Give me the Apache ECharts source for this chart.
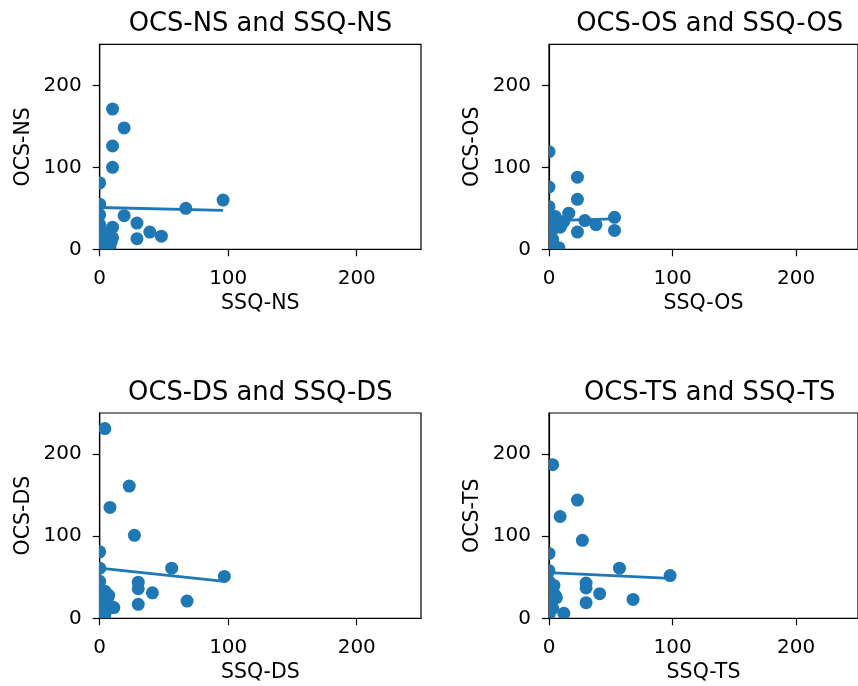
<!DOCTYPE html>
<html>
<head>
<meta charset="utf-8">
<script src="https://cdn.jsdelivr.net/npm/echarts@6/dist/echarts.min.js"></script>
<style>
html, body { margin: 0; padding: 0; background: #fff; }
#chart { width: 858px; height: 686px; }
</style>
</head>
<body>
<div id="chart"></div>
<script>
'use strict';
// panel names
const scales = ['NS', 'OS', 'DS', 'TS'];
const tickValues = [0, 100, 200];

// SSQ (x) and OCS (y) values per panel
const ssqNS = [10, 19, 10, 10, 0, 0, 0, 67, 96, 19, 29, 10, 39, 48, 29, 3, 5, 9, 2, 8, 4, 0, 10, 1];
const ocsNS = [171, 148, 126, 100, 81, 55, 42, 50, 60, 41, 32, 27, 21, 16, 13, 20, 12, 9, 5, 2, 0, 30, 14, 10];
const ssqOS = [0, 23, 0, 23, 0, 16, 29, 38, 53, 53, 23, 9, 8, 0, 0, 3, 0, 12, 5, 2, 10, 6];
const ocsOS = [119, 88, 76, 61, 52, 44, 35, 30, 39, 23, 21, 27, 2, 36, 28, 12, 5, 34, 40, 22, 30, 34];
const ssqDS = [4, 23, 8, 27, 0, 0, 56, 97, 30, 30, 41, 68, 30, 11, 0, 4, 6, 3, 9, 4, 0, 2, 7, 0];
const ocsDS = [231, 161, 135, 101, 81, 61, 61, 51, 44, 36, 31, 21, 17, 13, 45, 33, 23, 11, 13, 4, 28, 18, 28, 8];
const ssqTS = [3, 23, 9, 27, 0, 0, 57, 98, 30, 30, 41, 68, 30, 12, 0, 3, 5, 2, 3, 0, 6, 4];
const ocsTS = [187, 144, 124, 95, 79, 58, 61, 52, 43, 37, 30, 23, 19, 6, 45, 35, 28, 20, 12, 5, 25, 40];

// fitted line ends (x from min to max of SSQ)
const fitNS = [[0, 51], [96, 47.5]];
const fitOS = [[0, 35], [53, 37]];
const fitDS = [[0, 61], [97, 45]];
const fitTS = [[0, 55.5], [98, 48.5]];

const xs = [ssqNS, ssqOS, ssqDS, ssqTS];
const ys = [ocsNS, ocsOS, ocsDS, ocsTS];
const fits = [fitNS, fitOS, fitDS, fitTS];

const font = 'DejaVu Sans';
const blue = '#1f77b4';
const boxes = [
    {left: 99.7, top: 44.3, width: 321.3, height: 205},
    {left: 549, top: 44.3, width: 321.3, height: 205},
    {left: 99.7, top: 413, width: 321.3, height: 205.3},
    {left: 549, top: 413, width: 321.3, height: 205.3}
];

let dom = document.getElementById('chart');
let myChart = echarts.init(dom, null, {renderer: 'canvas'});

let titles = [], grids = [], xAxes = [], yAxes = [], series = [];

// scatter dots drawn as a custom series so they get cut at the plot border
function renderDot(params, api) {
    let p = api.coord([api.value(0), api.value(1)]);
    return {
        type: 'circle',
        shape: {cx: p[0], cy: p[1], r: 6.5},
        style: {fill: blue}
    };
}

scales.forEach(function (s, i) {
    let b = boxes[i];
    titles.push({
        text: 'OCS-' + s + ' and SSQ-' + s,
        left: b.left + b.width / 2,
        top: b.top - 33,
        textAlign: 'center',
        padding: 0,
        textStyle: {fontFamily: font, fontSize: 25.8, fontWeight: 'normal', color: '#000'}
    });
    grids.push({
        left: b.left, top: b.top, width: b.width, height: b.height,
        show: true, borderColor: '#000', borderWidth: 1.2, backgroundColor: '#fff'
    });
    let axisCommon = {
        gridIndex: i,
        type: 'value',
        min: 0,
        max: 250,
        interval: 100,
        nameLocation: 'middle',
        nameTextStyle: {fontFamily: font, fontSize: 20.5, color: '#000'},
        axisLine: {show: true, lineStyle: {color: '#000', width: 1.2}},
        axisTick: {show: true, inside: false, length: 7, customValues: tickValues,
            lineStyle: {color: '#000', width: 1.2}},
        axisLabel: {fontFamily: font, fontSize: 20, color: '#000', customValues: tickValues},
        splitLine: {show: false}
    };
    xAxes.push(Object.assign({}, axisCommon, {
        name: 'SSQ-' + s,
        nameGap: 44,
        axisLabel: Object.assign({}, axisCommon.axisLabel, {margin: 19})
    }));
    yAxes.push(Object.assign({}, axisCommon, {
        name: 'OCS-' + s,
        nameGap: 66,
        axisLabel: Object.assign({}, axisCommon.axisLabel, {margin: 18})
    }));
    series.push({
        type: 'custom',
        xAxisIndex: i,
        yAxisIndex: i,
        clip: true,
        renderItem: renderDot,
        data: xs[i].map(function (v, k) { return [v, ys[i][k]]; })
    });
    series.push({
        type: 'line',
        xAxisIndex: i,
        yAxisIndex: i,
        showSymbol: false,
        symbol: 'none',
        clip: true,
        lineStyle: {color: blue, width: 2.8},
        data: fits[i]
    });
});

let option = {
    animation: false,
    backgroundColor: '#fff',
    title: titles,
    grid: grids,
    xAxis: xAxes,
    yAxis: yAxes,
    series: series
};
myChart.setOption(option, true);
</script>
</body>
</html>
